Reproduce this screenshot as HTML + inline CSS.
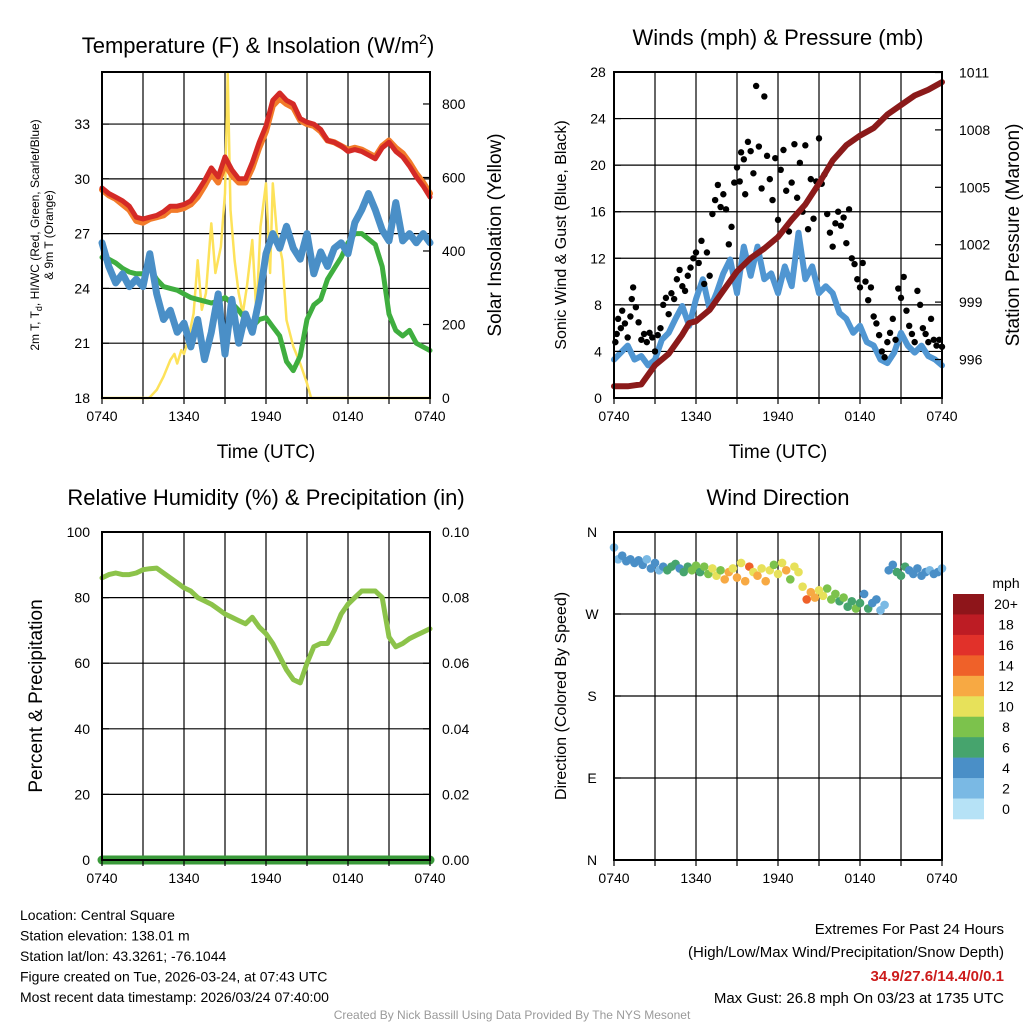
<!DOCTYPE html>
<html><head><meta charset="utf-8"><style>
html,body{margin:0;padding:0;background:#fff}
svg{display:block;font-family:"Liberation Sans",Arial,sans-serif}
</style></head><body>
<svg id="c" width="1024" height="1024" viewBox="0 0 1024 1024" xmlns="http://www.w3.org/2000/svg"></svg>
<script>
// ---------- DATA ----------
const hours = [0,0.5,1,1.5,2,2.5,3,3.5,4,4.5,5,5.5,6,6.5,7,7.5,8,8.5,9,9.5,10,10.5,11,11.5,12,12.5,13,13.5,14,14.5,15,15.5,16,16.5,17,17.5,18,18.5,19,19.5,20,20.5,21,21.5,22,22.5,23,23.5,24];
const xTickLabels = ["0740","1340","1940","0140","0740"];
const tempRed = [29.5,29.2,29.0,28.8,28.5,27.9,27.8,27.9,28.0,28.2,28.5,28.5,28.6,28.8,29.3,29.9,30.6,30.1,31.2,30.5,30.0,30.0,30.9,32.0,32.9,34.3,34.7,34.3,34.1,33.3,33.1,33.0,32.7,32.1,32.0,31.8,31.5,31.6,31.5,31.3,31.1,31.7,32.0,31.5,31.2,30.7,30.1,29.6,29.0];
const temp9m = [29.4,29.1,28.9,28.6,28.3,27.7,27.6,27.8,27.9,28.0,28.3,28.3,28.4,28.6,29.0,29.6,30.3,29.8,30.8,30.2,29.8,29.8,30.6,31.7,32.6,34.0,34.4,34.1,33.9,33.2,33.0,32.9,32.6,32.1,32.0,31.8,31.6,31.7,31.6,31.4,31.2,31.8,32.1,31.7,31.4,30.9,30.3,29.8,29.2];
const dewGreen = [25.7,25.6,25.4,25.1,24.9,24.8,24.8,25.1,24.5,24.1,24.0,23.9,23.7,23.5,23.4,23.3,23.2,23.3,23.5,23.2,22.8,22.3,21.9,22.3,22.4,21.9,21.4,20.0,19.5,20.3,22.3,23.1,23.4,24.5,25.1,25.7,26.5,27.0,27.0,26.7,26.4,25.2,22.6,21.7,21.4,21.7,21.0,20.8,20.6];
const hiwcBlue = [26.5,25.2,24.3,24.8,24.1,24.5,24.1,25.9,23.7,22.3,22.8,21.6,22.1,20.8,22.3,20.1,21.6,23.7,20.4,23.4,21.0,22.6,21.6,23.4,25.9,27.0,26.2,27.4,26.2,25.6,27.0,24.8,26.0,25.2,26.2,26.5,25.9,27.6,28.3,29.2,28.3,27.2,26.6,28.7,26.6,27.0,26.5,27.0,26.5];
const solarHours = [0,3.4,3.5,4,4.5,5,5.3,5.5,5.8,6,6.3,6.7,7,7.3,7.6,8,8.3,8.7,9,9.2,9.4,9.7,10,10.3,10.6,11,11.3,11.6,12,12.3,12.5,12.8,13.2,13.5,14,14.5,15,15.3,24];
const solarVals = [0,0,2,22,58,103,120,94,130,120,158,230,375,240,285,475,340,412,557,883,512,375,285,230,303,430,230,466,584,340,584,448,375,212,140,94,40,0,0];
const windBlue = [3.3,3.9,4.5,3.3,3.6,2.8,3.3,5.0,5.6,6.8,7.9,6.2,8.5,10.2,7.6,9.0,10.7,11.9,9.0,13.0,10.5,13.0,10.2,10.7,9.0,11.3,9.6,14.2,10.2,11.3,9.0,9.6,9.0,7.3,6.8,5.6,6.2,4.8,4.5,3.3,3.0,3.9,5.6,4.5,3.9,4.5,3.6,3.3,2.8];
const pressHours = [0,1,2,3,4,5,5.5,6,7,8,9,10,11,12,13,14,15,16,17,18,19,20,21,22,23,24];
const pressVals = [994.6,994.6,994.7,995.7,996.3,997.3,997.9,998.0,998.6,999.6,1000.6,1001.3,1001.8,1002.4,1003.3,1004.1,1005.2,1006.4,1007.2,1007.7,1008.1,1008.8,1009.3,1009.8,1010.1,1010.5];
const gustHours = [0.1,0.2,0.3,0.5,0.6,0.8,1.0,1.2,1.3,1.4,1.6,1.8,2.0,2.2,2.4,2.6,2.8,3.0,3.2,3.4,3.6,3.8,4.0,4.2,4.4,4.6,4.8,5.0,5.2,5.4,5.6,5.8,6.0,6.2,6.4,6.6,6.8,7.0,7.2,7.4,7.6,7.8,8.0,8.2,8.4,8.6,8.8,9.0,9.2,9.3,9.5,9.6,9.8,10.0,10.2,10.4,10.6,10.8,11.0,11.2,11.4,11.6,11.8,12.0,12.2,12.4,12.6,12.8,13.0,13.2,13.4,13.6,13.8,14.0,14.2,14.4,14.6,14.8,15.0,15.2,15.4,15.6,15.8,16.0,16.2,16.4,16.6,16.8,17.0,17.2,17.4,17.6,17.8,18.0,18.2,18.4,18.6,18.8,19.0,19.2,19.4,19.6,19.8,20.0,20.2,20.4,20.6,20.8,21.0,21.2,21.4,21.6,21.8,22.0,22.2,22.4,22.6,22.8,23.0,23.2,23.4,23.6,23.8,24.0];
const gustVals = [4.8,5.5,6.8,6.0,7.5,6.4,5.2,7.0,8.5,9.5,7.8,6.5,5.0,5.5,4.8,5.6,5.2,4.0,5.4,6.0,8.0,8.6,7.2,9.0,8.5,10.2,11.0,9.6,9.2,10.5,11.2,12.0,12.5,11.6,13.5,9.8,12.5,10.5,15.8,17.0,18.3,16.4,17.5,16.2,13.2,14.7,18.5,19.8,18.6,21.1,20.5,17.5,22.0,21.2,19.3,26.8,21.6,18.0,25.9,20.8,18.8,17.0,20.6,15.3,19.6,21.3,17.8,14.3,18.5,21.8,17.2,20.2,16.0,21.7,14.5,18.8,15.4,18.6,22.3,18.4,19.2,15.8,14.2,13.0,15.0,16.0,14.8,15.5,13.3,16.2,12.0,11.5,10.2,9.5,11.6,10.0,8.4,9.5,7.0,6.4,5.4,4.0,3.5,4.8,5.6,6.8,5.0,9.4,8.6,10.4,7.5,6.2,5.5,4.8,9.2,8.0,6.0,5.5,4.8,6.8,5.0,4.5,5.0,4.4];
const rhVals = [86,87,87.5,87,87,87.5,88.5,88.8,89,87.5,86,84.5,83,82,80,79,78,76.5,75,74,73,72,74,71,69,66,62,58,55,54,60,65,66,66,70,75,78,80,82,82,82,80,68,65,66,67.5,68.5,69.5,70.5];
const precipVals = [0,0,0,0,0];
const precipHours = [0,6,12,18,24];
const dirHours = [0,0.3,0.6,0.9,1.2,1.5,1.8,2.1,2.4,2.7,3.0,3.3,3.6,3.9,4.2,4.5,4.8,5.1,5.4,5.7,6.0,6.3,6.6,6.9,7.2,7.5,7.8,8.1,8.4,8.7,9.0,9.3,9.6,9.9,10.2,10.5,10.8,11.1,11.4,11.7,12.0,12.3,12.6,12.9,13.2,13.5,13.8,14.1,14.4,14.7,15.0,15.3,15.6,15.9,16.2,16.5,16.8,17.1,17.4,17.7,18.0,18.3,18.6,18.9,19.2,19.5,19.8,20.1,20.4,20.7,21.0,21.3,21.6,21.9,22.2,22.5,22.8,23.1,23.4,23.7,24.0];
const dirVals = [343,330,334,328,330,326,329,324,330,320,326,318,322,318,322,325,320,316,322,318,323,316,322,314,320,312,318,308,316,320,310,326,306,322,316,312,320,306,318,324,314,326,318,308,322,316,300,286,294,288,296,290,298,286,292,284,288,278,284,276,282,292,276,282,286,274,280,318,324,316,312,322,318,314,320,312,316,318,314,316,320];
const dirSpeeds = [2,2,3,4,4,3,4,4,2,4,3,2,4,5,5,6,4,6,6,7,7,5,8,7,9,10,8,11,12,9,12,10,11,14,10,12,9,12,10,8,10,9,11,8,10,9,10,14,11,12,10,9,8,7,8,6,7,6,5,7,5,4,6,3,4,2,2,4,4,5,6,5,4,4,4,3,4,2,4,3,2];
const speedLabels = ["0","2","4","6","8","10","12","14","16","18","20+"];
const speedColors = ["#b6e2f6","#7ab9e4","#4a8fc7","#46a46d","#7cc24c","#e7e15a","#f7a943","#ef6129","#e1312a","#bd1c24","#8e151a"];

// ---------- helpers ----------
const NS="http://www.w3.org/2000/svg";
const svg=document.getElementById('c');
function mk(tag,attrs,parent){const e=document.createElementNS(NS,tag);for(const k in attrs)e.setAttribute(k,attrs[k]);(parent||svg).appendChild(e);return e;}
function txt(s,x,y,size,anchor,parent,extra){const e=mk('text',Object.assign({x:x,y:y,'font-size':size,'text-anchor':anchor||'middle',fill:'#000'},extra||{}),parent);e.textContent=s;return e;}
function lin(d0,d1,r0,r1){return v=>r0+(v-d0)/(d1-d0)*(r1-r0);}

function panel(name){
  const g=mk('g',{});
  
  
  return g;
}
function polyline(g,xs,ys,color,width,name){
  const pts=xs.map((v,i)=>v.toFixed(1)+','+ys[i].toFixed(1)).join(' ');
  const p=mk('polyline',{points:pts,fill:'none',stroke:color,'stroke-width':width,'stroke-linejoin':'round','stroke-linecap':'round'},g);
  
  
  return p;
}
function frame(g,x0,y0,x1,y1){mk('rect',{x:x0,y:y0,width:x1-x0,height:y1-y0,fill:'none',stroke:'#000','stroke-width':2},g);}
function xAxis(g,X,y1){
  const ticks=[0,6,12,18,24];
  ticks.forEach((t,i)=>{txt(xTickLabels[i],X(t),y1+23,14,'middle',g);});
  for(let t=0;t<=24;t+=3){mk('line',{x1:X(t),x2:X(t),y1:y1,y2:y1+6,stroke:'#000','stroke-width':1.2},g);}
}

// ---------- Panel 1 ----------
(function(){
  const x0=102,x1=430,y0=72,y1=398;
  const g=panel('temperature-panel');
  const X=lin(0,24,x0,x1), Y=lin(18,35.85,y1,y0), YS=lin(0,887,y1,y0);
  for(const v of [18,21,24,27,30,33]) mk('line',{x1:x0,x2:x1,y1:Y(v),y2:Y(v),stroke:'#000','stroke-width':1.2},g);
  for(let t=3;t<24;t+=3) mk('line',{x1:X(t),x2:X(t),y1:y0,y2:y1,stroke:'#000','stroke-width':1.2},g);
  polyline(g,solarHours.map(X),solarVals.map(YS),'#fde25a',2.5,'solar-insolation-line');
  polyline(g,hours.map(X),dewGreen.map(Y),'#3fae3f',5,'dewpoint-line');
  polyline(g,hours.map(X),hiwcBlue.map(Y),'#4a8fc7',7,'heat-index-windchill-line');
  polyline(g,hours.map(X),temp9m.map(Y),'#f27b2a',6,'temp-9m-line');
  polyline(g,hours.map(X),tempRed.map(Y),'#d42a26',5,'temp-2m-line');
  frame(g,x0,y0,x1,y1);
  for(const v of [18,21,24,27,30,33]){txt(String(v),x0-12,Y(v)+5,14,'end',g);mk('line',{x1:x0,x2:x0+7,y1:Y(v),y2:Y(v),stroke:'#000','stroke-width':1.2},g);}
  for(const v of [0,200,400,600,800]){txt(String(v),x1+12,YS(v)+5,14,'start',g);mk('line',{x1:x1-7,x2:x1,y1:YS(v),y2:YS(v),stroke:'#000','stroke-width':1.2},g);}
  xAxis(g,X,y1);
  const t=txt('Temperature (F) & Insolation (W/m',258,53,22,'middle',g);
  
  const sup=mk('tspan',{'font-size':14,dy:-9},t);sup.textContent='2';
  const cl=mk('tspan',{'font-size':22,dy:9},t);cl.textContent=')';
  txt('Time (UTC)',266,458,19,'middle',g);
  const yl=mk('text',{transform:'translate(39,235) rotate(-90)','font-size':12,'text-anchor':'middle'},g);
  
  yl.innerHTML='2m T, T<tspan font-size="9" dy="3">d</tspan><tspan dy="-3">, HI/WC (Red, Green, Scarlet/Blue)</tspan>';
  txt('& 9m T (Orange)',0,0,12,'middle',g,{transform:'translate(53,235) rotate(-90)'});
  txt('Solar Insolation (Yellow)',0,0,19,'middle',g,{transform:'translate(501,235) rotate(-90)'});
})();

// ---------- Panel 2 ----------
(function(){
  const x0=614,x1=942,y0=72,y1=398;
  const g=panel('winds-panel');
  const X=lin(0,24,x0,x1), Y=lin(0,28,y1,y0), YP=lin(996,1011,359.5,72.5);
  for(let v=4;v<28;v+=4) mk('line',{x1:x0,x2:x1,y1:Y(v),y2:Y(v),stroke:'#000','stroke-width':1.2},g);
  for(let t=3;t<24;t+=3) mk('line',{x1:X(t),x2:X(t),y1:y0,y2:y1,stroke:'#000','stroke-width':1.2},g);
  polyline(g,hours.map(X),windBlue.map(Y),'#5096d2',6,'sonic-wind-line');
  gustHours.forEach((h,i)=>{const c=mk('circle',{cx:X(h),cy:Y(gustVals[i]),r:3.2,fill:'#000'},g);
    
    });
  polyline(g,pressHours.map(X),pressVals.map(YP),'#8b1a1a',6,'station-pressure-line');
  frame(g,x0,y0,x1,y1);
  for(let v=0;v<=28;v+=4){txt(String(v),x0-16,Y(v)+5,14,'middle',g);mk('line',{x1:x0,x2:x0+7,y1:Y(v),y2:Y(v),stroke:'#000','stroke-width':1.2},g);}
  for(const v of [996,999,1002,1005,1008,1011]){txt(String(v),x1+17,YP(v)+5,14,'start',g);mk('line',{x1:x1-7,x2:x1,y1:YP(v),y2:YP(v),stroke:'#000','stroke-width':1.2},g);}
  xAxis(g,X,y1);
  txt('Winds (mph) & Pressure (mb)',778,45,22,'middle',g);
  txt('Time (UTC)',778,458,19,'middle',g);
  txt('Sonic Wind & Gust (Blue, Black)',0,0,16,'middle',g,{transform:'translate(566,235) rotate(-90)'});
  txt('Station Pressure (Maroon)',0,0,19,'middle',g,{transform:'translate(1019,235) rotate(-90)'});
})();

// ---------- Panel 3 ----------
(function(){
  const x0=102,x1=430,y0=532,y1=860;
  const g=panel('humidity-panel');
  const X=lin(0,24,x0,x1), Y=lin(0,100,y1,y0), YR=lin(0,0.1,y1,y0);
  for(let v=20;v<100;v+=20) mk('line',{x1:x0,x2:x1,y1:Y(v),y2:Y(v),stroke:'#000','stroke-width':1.2},g);
  for(let t=3;t<24;t+=3) mk('line',{x1:X(t),x2:X(t),y1:y0,y2:y1,stroke:'#000','stroke-width':1.2},g);
  polyline(g,hours.map(X),rhVals.map(Y),'#8cc34a',5,'relative-humidity-line');
  polyline(g,precipHours.map(X),precipVals.map(YR),'#3a9a3a',9,'precipitation-line');
  frame(g,x0,y0,x1,y1);
  for(let v=0;v<=100;v+=20){txt(String(v),x0-12,Y(v)+5,14,'end',g);mk('line',{x1:x0,x2:x0+7,y1:Y(v),y2:Y(v),stroke:'#000','stroke-width':1.2},g);}
  for(let i=0;i<=5;i++){const v=i*0.02;txt(v.toFixed(2),x1+12,YR(v)+5,14,'start',g);mk('line',{x1:x1-7,x2:x1,y1:YR(v),y2:YR(v),stroke:'#000','stroke-width':1.2},g);}
  xAxis(g,X,y1);
  txt('Relative Humidity (%) & Precipitation (in)',266,505,22,'middle',g);
  txt('Percent & Precipitation',0,0,19,'middle',g,{transform:'translate(42,696) rotate(-90)'});
})();

// ---------- Panel 4 ----------
(function(){
  const x0=614,x1=942,y0=532,y1=860;
  const g=panel('wind-direction-panel');
  const X=lin(0,24,x0,x1), Y=lin(0,360,y1,y0);
  for(const v of [90,180,270]) mk('line',{x1:x0,x2:x1,y1:Y(v),y2:Y(v),stroke:'#000','stroke-width':1.2},g);
  for(let t=3;t<24;t+=3) mk('line',{x1:X(t),x2:X(t),y1:y0,y2:y1,stroke:'#000','stroke-width':1.2},g);
  dirHours.forEach((h,i)=>{const idx=Math.min(10,Math.round(dirSpeeds[i]/2));
    const c=mk('circle',{cx:X(h),cy:Y(dirVals[i]),r:4.3,fill:speedColors[idx]},g);
    
    });
  frame(g,x0,y0,x1,y1);
  ['N','E','S','W','N'].forEach((s,i)=>{txt(s,x0-22,Y(i*90)+5,14,'middle',g);mk('line',{x1:x0,x2:x0+7,y1:Y(i*90),y2:Y(i*90),stroke:'#000','stroke-width':1.2},g);});
  xAxis(g,X,y1);
  txt('Wind Direction',778,505,22,'middle',g);
  txt('Direction (Colored By Speed)',0,0,16,'middle',g,{transform:'translate(566,696) rotate(-90)'});
  const lg=mk('g',{},g);
  
  
  txt('mph',1006,588,14,'middle',lg);
  const bh=(819-594)/11;
  for(let i=0;i<11;i++){const k=10-i;
    const r=mk('rect',{x:953,y:594+i*bh,width:31,height:bh+0.3,fill:speedColors[k]},lg);
    
    
    txt(speedLabels[k],1006,594+i*bh+bh/2+5,14,'middle',lg);}
})();

// ---------- footer text ----------
(function(){
  const g=mk('g',{});
  
  
  const L=['Location: Central Square','Station elevation: 138.01 m','Station lat/lon: 43.3261; -76.1044','Figure created on Tue, 2026-03-24, at 07:43 UTC','Most recent data timestamp: 2026/03/24 07:40:00'];
  L.forEach((s,i)=>txt(s,20,920+i*20.5,14,'start',g));
  const r=mk('g',{});
  
  
  txt('Extremes For Past 24 Hours',1004,934,15,'end',r);
  txt('(High/Low/Max Wind/Precipitation/Snow Depth)',1004,957,15,'end',r);
  txt('34.9/27.6/14.4/0/0.1',1004,981,15,'end',r,{fill:'#cc1b1b','font-weight':'bold'});
  txt('Max Gust: 26.8 mph On 03/23 at 1735 UTC',1004,1003,15,'end',r);
  txt('Created By Nick Bassill Using Data Provided By The NYS Mesonet',512,1019,12,'middle',null,{fill:'#9a9a9a'});
})();
</script>
</body></html>
